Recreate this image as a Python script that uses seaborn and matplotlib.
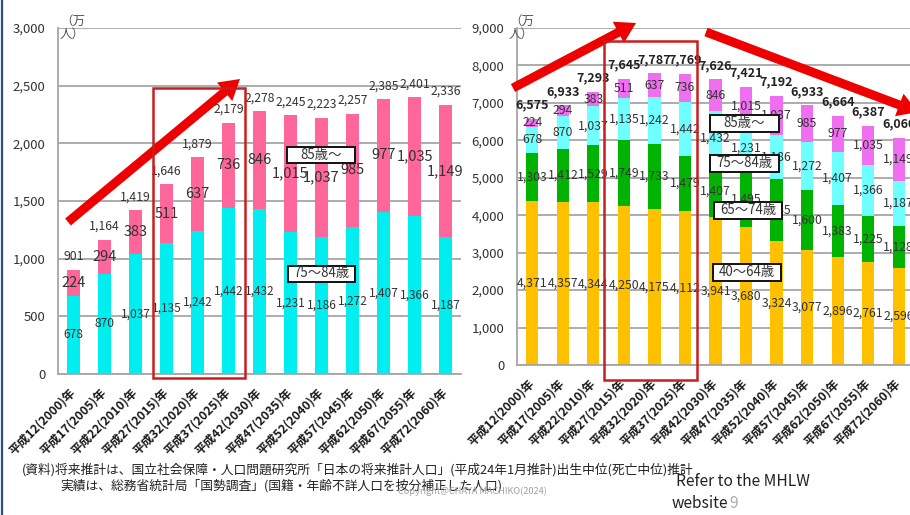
import numpy as np
import pandas as pd
import matplotlib
matplotlib.use("Agg")
import matplotlib.pyplot as plt
import seaborn as sns
from matplotlib.patches import Rectangle, FancyArrow
from matplotlib.lines import Line2D

# ---------------- data ----------------
years = ["平成12(2000)年", "平成17(2005)年", "平成22(2010)年", "平成27(2015)年",
         "平成32(2020)年", "平成37(2025)年", "平成42(2030)年", "平成47(2035)年",
         "平成52(2040)年", "平成57(2045)年", "平成62(2050)年", "平成67(2055)年",
         "平成72(2060)年"]
age_40_64 = [4371, 4357, 4344, 4250, 4175, 4112, 3941, 3680, 3324, 3077, 2896, 2761, 2596]
age_65_74 = [1303, 1412, 1529, 1749, 1733, 1479, 1407, 1495, 1645, 1600, 1383, 1225, 1128]
age_75_84 = [678, 870, 1037, 1135, 1242, 1442, 1432, 1231, 1186, 1272, 1407, 1366, 1187]
age_85_up = [224, 294, 383, 511, 637, 736, 846, 1015, 1037, 985, 977, 1035, 1149]
total_75_up = [901, 1164, 1419, 1646, 1879, 2179, 2278, 2245, 2223, 2257, 2385, 2401, 2336]
total_40_up = [6575, 6933, 7293, 7645, 7787, 7769, 7626, 7421, 7192, 6933, 6664, 6387, 6060]
left_yticks = [0, 500, 1000, 1500, 2000, 2500, 3000]
right_yticks = [0, 1000, 2000, 3000, 4000, 5000, 6000, 7000, 8000, 9000]

# ---------------- style ----------------
sns.set_style("white")
plt.rcParams["font.family"] = ["Noto Sans CJK JP", "DejaVu Sans"]

W, H = 910, 515
fig = plt.figure(figsize=(W / 100, H / 100), dpi=100)
fig.patch.set_facecolor("white")

def px_axes(x0, x1, y_top, y_bottom):
    return fig.add_axes([x0 / W, 1 - y_bottom / H, (x1 - x0) / W, (y_bottom - y_top) / H])

axL = px_axes(58, 461, 28, 374)
axR = px_axes(517, 914, 28, 365)

PINK = "#FF6699"
CYAN_L = "#00EEF0"
GOLD = "#FFC000"
GREEN = "#00B300"
CYAN_R = "#70FFFF"
MAG = "#F06EF0"
GRID = "#A6A6A6"
TXT = "#333333"

df = pd.DataFrame({"year": years, "a": age_40_64, "b": age_65_74,
                   "c": age_75_84, "d": age_85_up})

def style_axes(ax, ymax, yticks):
    ax.set_xlim(-0.5, len(years) - 0.5)
    ax.set_ylim(0, ymax)
    ax.set_yticks(yticks)
    ax.set_yticklabels([f"{t:,}" for t in yticks], fontsize=9.5, color=TXT)
    ax.yaxis.grid(True, color=GRID, lw=1.3)
    ax.set_axisbelow(True)
    for s in ["top", "right"]:
        ax.spines[s].set_visible(False)
    for s in ["left", "bottom"]:
        ax.spines[s].set_color(GRID)
        ax.spines[s].set_linewidth(1.3)
    ax.tick_params(axis="y", length=4, color=GRID, width=1.3, pad=5)
    ax.set_xticks(range(len(years)))
    ax.set_xticklabels(years, rotation=45, ha="right", va="center",
                       rotation_mode="anchor", fontsize=8.7, color="#1A1A1A",
                       fontweight="bold")
    ax.tick_params(axis="x", which="major", length=0, pad=12)
    ax.set_xticks(np.arange(-0.5, len(years), 1), minor=True)
    ax.tick_params(axis="x", which="minor", length=5, color=GRID, width=1.3)
    ax.set_xlabel("")
    ax.set_ylabel("")

# ---------------- left chart: 75+ ----------------
cumL_top = df["c"] + df["d"]
sns.barplot(data=df, x="year", y=cumL_top, order=years, color=PINK, width=0.4,
            saturation=1, linewidth=0, ax=axL)
sns.barplot(data=df, x="year", y="c", order=years, color=CYAN_L, width=0.4,
            saturation=1, linewidth=0, ax=axL)
style_axes(axL, 3000, left_yticks)

for i in range(len(years)):
    c, d = age_75_84[i], age_85_up[i]
    axL.text(i, c / 2, f"{c:,}", ha="center", va="center", fontsize=8.6, color=TXT)
    axL.text(i, c + d / 2, f"{d:,}", ha="center", va="center", fontsize=10.5, color=TXT)
    axL.annotate(f"{total_75_up[i]:,}", (i, c + d), xytext=(0, 9.5),
                 textcoords="offset points", ha="center", va="center",
                 fontsize=8.8, color=TXT)

# ---------------- right chart: 40+ ----------------
cum1 = df["a"]
cum2 = cum1 + df["b"]
cum3 = cum2 + df["c"]
cum4 = cum3 + df["d"]
for ser, col in [(cum4, MAG), (cum3, CYAN_R), (cum2, GREEN), (cum1, GOLD)]:
    sns.barplot(data=df, x="year", y=ser, order=years, color=col, width=0.4,
                saturation=1, linewidth=0, ax=axR)
style_axes(axR, 9000, right_yticks)

for i in range(len(years)):
    a, b, c, d = age_40_64[i], age_65_74[i], age_75_84[i], age_85_up[i]
    axR.text(i, a / 2, f"{a:,}", ha="center", va="center", fontsize=8.8, color=TXT)
    axR.text(i, a + b / 2, f"{b:,}", ha="center", va="center", fontsize=8.8, color=TXT)
    axR.text(i, a + b + c / 2, f"{c:,}", ha="center", va="center", fontsize=8.8, color=TXT)
    axR.text(i, a + b + c + d / 2, f"{d:,}", ha="center", va="center", fontsize=8.8, color=TXT)
    axR.annotate(f"{total_40_up[i]:,}", (i, a + b + c + d), xytext=(0, 10),
                 textcoords="offset points", ha="center", va="center",
                 fontsize=9, fontweight="bold", color="#222222")

# ---------------- overlay (pixel coordinates) ----------------
ov = fig.add_axes([0, 0, 1, 1], zorder=10)
ov.set_xlim(0, W)
ov.set_ylim(H, 0)
ov.axis("off")
ov.patch.set_alpha(0)

RED = "#EE0000"
for (x0, y0, x1, y1) in [(68, 222, 240, 79), (513, 88, 636, 23), (706, 32, 918, 112)]:
    ov.add_patch(FancyArrow(x0, y0, x1 - x0, y1 - y0, width=9, head_width=24,
                            head_length=20, length_includes_head=True,
                            color=RED, lw=0))

for (x0, y0, x1, y1) in [(153, 88, 245, 378), (604, 41, 697, 380)]:
    ov.add_patch(Rectangle((x0, y0), x1 - x0, y1 - y0, fill=False,
                           edgecolor="#C81E1E", lw=1.8))

for (x0, y0, x1, y1, s) in [(287, 147, 355, 163, "85歳〜"),
                            (288, 266, 355, 282, "75〜84歳"),
                            (710, 115, 779, 132, "85歳〜"),
                            (710, 155, 779, 172, "75〜84歳"),
                            (714, 202, 782, 219, "65〜74歳"),
                            (713, 264, 781, 281, "40〜64歳")]:
    ov.add_patch(Rectangle((x0, y0), x1 - x0, y1 - y0, facecolor="white",
                           edgecolor="#111111", lw=1.4))
    ov.text((x0 + x1) / 2, (y0 + y1) / 2 - 0.5, s, ha="center", va="center",
            fontsize=9.6, color=TXT)

ov.text(60, 28, "（万\n人）", ha="left", va="center", fontsize=9, color="#555555",
        linespacing=1.0)
ov.text(509, 28, "（万\n人）", ha="left", va="center", fontsize=9, color="#555555",
        linespacing=1.0)

ov.text(22, 470, "(資料)将来推計は、国立社会保障・人口問題研究所「日本の将来推計人口」(平成24年1月推計)出生中位(死亡中位)推計",
        ha="left", va="center", fontsize=9.2, color="#222222")
ov.text(60, 486, "実績は、総務省統計局「国勢調査」(国籍・年齢不詳人口を按分補正した人口)",
        ha="left", va="center", fontsize=9.2, color="#222222")
ov.text(398, 491, "Copyright@CHAYA MACHIKO(2024)", ha="left", va="center",
        fontsize=6.6, color="#A0A0A0")
ov.text(676, 481, "Refer to the MHLW", ha="left", va="center", fontsize=11.2,
        color="#222222")
ov.text(672, 503, "website", ha="left", va="center", fontsize=11.2, color="#222222")
ov.text(729, 503, "9", ha="left", va="center", fontsize=11.2, color="#AAAAAA")

ov.add_line(Line2D([2, 2], [0, H], color="#2A4A9A", lw=1.6))

fig.savefig("out.png", dpi=100)
